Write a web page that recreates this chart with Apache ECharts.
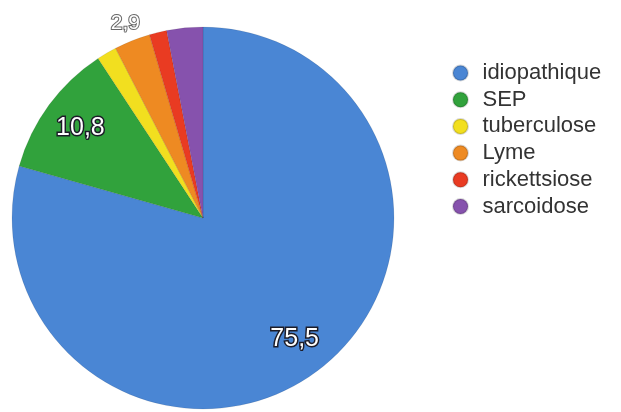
<!DOCTYPE html>
<html>
<head>
<meta charset="utf-8">
<script src="https://cdn.jsdelivr.net/npm/echarts@6/dist/echarts.min.js"></script>
<style>
html,body{margin:0;padding:0;background:#fff;}
#chart{width:621px;height:412px;}
</style>
</head>
<body>
<div id="chart"></div>
<script>
const categories = ['idiopathique', 'SEP', 'tuberculose', 'Lyme', 'rickettsiose', 'sarcoidose'];
const values = [75.5, 10.8, 1.6, 2.9, 1.4, 2.9];
const colors = ['#4a86d4', '#31a23c', '#f2df1f', '#ee8a22', '#e93b22', '#8652ad'];
const insideLabeled = ['idiopathique', 'SEP'];
const outsideLabeled = ['Lyme'];

const fmt = v => String(v).replace('.', ',');
const data = categories.map((c, i) => ({ name: c, value: values[i], itemStyle: { color: colors[i] } }));
const ghost = (names) => categories.map((c, i) => ({
  name: c, value: values[i],
  itemStyle: { color: 'rgba(0,0,0,0)' },
  label: { show: names.includes(c) }
}));

const center = [203, 218];
const R = 191;
const labelStyle = {
  position: 'inside',
  color: '#fff',
  fontFamily: 'Liberation Sans, Arial, sans-serif',
  fontSize: 25,
  textBorderColor: '#1c1c28',
  textBorderWidth: 3,
  formatter: p => fmt(p.value)
};

const chart = echarts.init(document.getElementById('chart'), null, { renderer: 'canvas' });
chart.setOption({
  animation: false,
  backgroundColor: '#fff',
  legend: {
    orient: 'vertical',
    left: 447,
    top: 57,
    icon: 'circle',
    itemWidth: 34,
    itemHeight: 15,
    itemGap: 4.7,
    data: categories,
    textStyle: {
      fontFamily: 'Liberation Sans, Arial, sans-serif',
      fontSize: 22,
      lineHeight: 20,
      color: '#333'
    }
  },
  series: [
    {
      type: 'pie',
      center: center,
      radius: [0, R],
      startAngle: 90,
      clockwise: true,
      label: { show: false },
      labelLine: { show: false },
      itemStyle: { borderColor: 'rgba(0,0,0,0.15)', borderWidth: 0.6 },
      emphasis: { disabled: true },
      data: data
    },
    {
      type: 'pie',
      center: center,
      radius: [R * 0.66, R * 0.9],
      startAngle: 90,
      clockwise: true,
      silent: true,
      legendHoverLink: false,
      labelLine: { show: false },
      label: labelStyle,
      emphasis: { disabled: true },
      data: ghost(insideLabeled)
    },
    {
      type: 'pie',
      center: center,
      radius: [R * 1.0, R * 1.16],
      startAngle: 90,
      clockwise: true,
      silent: true,
      legendHoverLink: false,
      labelLine: { show: false },
      label: Object.assign({}, labelStyle, { fontSize: 21, textBorderColor: '#666', textBorderWidth: 2 }),
      emphasis: { disabled: true },
      data: ghost(outsideLabeled)
    }
  ]
});
</script>
</body>
</html>
